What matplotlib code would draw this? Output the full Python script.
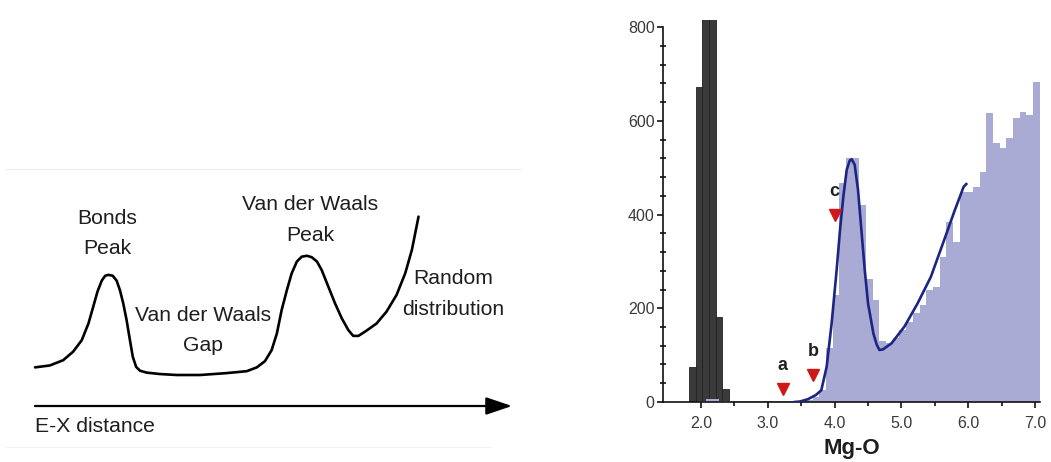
import matplotlib
matplotlib.use("Agg")
import matplotlib.pyplot as plt

plt.rcParams["font.family"] = ["Liberation Sans", "DejaVu Sans"]

# ---- left: schematic (arbitrary units, arrow runs 0 -> 10) ----
schema_x = [0.00, 0.31, 0.59, 0.80, 0.98, 1.12, 1.22, 1.31, 1.40, 1.47, 1.54, 1.63,
            1.71, 1.78, 1.85, 1.92, 1.99, 2.05, 2.12, 2.20, 2.34, 2.62, 2.97, 3.46,
            4.02, 4.44, 4.65, 4.82, 4.96, 5.07, 5.17, 5.28, 5.38, 5.49, 5.59, 5.70,
            5.80, 5.91, 6.01, 6.15, 6.29, 6.43, 6.57, 6.67, 6.78, 6.95, 7.16, 7.37,
            7.58, 7.76, 7.90, 8.04]
schema_y = [0.81, 0.85, 0.96, 1.14, 1.38, 1.73, 2.08, 2.40, 2.63, 2.73, 2.75, 2.73,
            2.63, 2.43, 2.15, 1.80, 1.38, 1.03, 0.82, 0.74, 0.70, 0.67, 0.65, 0.65,
            0.69, 0.73, 0.81, 0.94, 1.17, 1.52, 2.01, 2.43, 2.78, 3.03, 3.13, 3.15,
            3.12, 3.03, 2.85, 2.50, 2.15, 1.84, 1.59, 1.47, 1.47, 1.58, 1.73, 1.98,
            2.33, 2.78, 3.27, 3.97]
schema_labels = ["Bonds\nPeak", "Van der Waals\nGap", "Van der Waals\nPeak",
                 "Random\ndistribution"]
schema_label_x = [1.51, 3.52, 5.77, 8.76]
schema_label_y = [3.62, 1.59, 3.90, 2.35]

# ---- right: Mg-O histogram ----
dark_centers = [1.87, 1.97, 2.07, 2.17, 2.27, 2.37]
dark_counts = [75, 671, 900, 900, 182, 28]

light_centers = [round(2.02 + 0.1 * i, 2) for i in range(51)]
light_counts = [3, 6, 6, 3, 2, 2, 2, 2, 2, 2,
                2, 2, 2, 2, 3, 3, 5, 10, 25, 115,
                228, 467, 520, 520, 420, 262, 218, 130, 126, 137,
                153, 170, 189, 207, 239, 246, 310, 385, 342, 449,
                449, 459, 491, 616, 552, 541, 563, 605, 619, 612,
                683]

fit_x = [3.40, 3.48, 3.60, 3.72, 3.80, 3.88, 3.955, 4.03, 4.08, 4.13, 4.18, 4.225,
         4.255, 4.30, 4.35, 4.40, 4.45, 4.50, 4.58, 4.63, 4.67, 4.72, 4.85, 5.045,
         5.24, 5.44, 5.64, 5.79, 5.93, 5.97]
fit_y = [0, 1, 6, 15, 25, 75, 168, 282, 367, 438, 495, 515,
         518, 506, 452, 367, 282, 210, 146, 122, 111, 112, 125, 161,
         210, 267, 346, 406, 459, 465]

marker_labels = ["a", "b", "c"]
marker_x = [3.22, 3.68, 4.00]
marker_y = [27, 58, 399]

fig = plt.figure(figsize=(10.51, 4.62), dpi=100)

# schematic panel
ax0 = fig.add_axes([0, 0, 0.55, 1])
ax0.set_xlim(-0.734, 11.384)
ax0.set_ylim(-1.174, 8.512)
ax0.axis("off")
ax0.axhline(4.97, xmin=0.01, xmax=0.9, color="#eeeeee", lw=0.8)
ax0.axhline(-0.86, xmin=0.01, xmax=0.85, color="#f2f2f2", lw=0.8)
ax0.plot(schema_x, schema_y, color="black", lw=1.9,
         solid_capstyle="round", solid_joinstyle="round")
ax0.annotate("", xy=(10, 0), xytext=(0, 0),
             arrowprops=dict(arrowstyle="-|>,head_length=0.8,head_width=0.27",
                             mutation_scale=20, color="black", lw=1.6,
                             shrinkA=0, shrinkB=0))
for lab, lx, ly in zip(schema_labels, schema_label_x, schema_label_y):
    ax0.text(lx, ly, lab, ha="center", va="center", fontsize=15.2,
             color="#1e1e1e", linespacing=1.75)
ax0.text(0, -0.44, "E-X distance", ha="left", va="center", fontsize=15.2,
         color="#1e1e1e")

# histogram panel
ax = fig.add_axes([0.6308, 0.1299, 0.3585, 0.8268])
ax.bar(dark_centers, dark_counts, width=0.1, color="#3a3a3a",
       edgecolor="#222222", linewidth=0.6, zorder=1)
ax.bar(light_centers, light_counts, width=0.1, color="#a9abd5",
       linewidth=0, zorder=2)
ax.plot(fit_x, fit_y, color="#1c2682", lw=1.9, zorder=3)
ax.plot(marker_x, marker_y, linestyle="none", marker="v", markersize=9,
        color="#d01818", zorder=4)
for lab, mx, my in zip(marker_labels, marker_x, marker_y):
    ax.annotate(lab, (mx, my), xytext=(0, 11), textcoords="offset points",
                ha="center", va="bottom", fontsize=13, fontweight="bold",
                color="#222222", zorder=5)

ax.set_xlim(1.43, 7.07)
ax.set_ylim(0, 815)
ax.spines["top"].set_visible(False)
ax.spines["right"].set_visible(False)
ax.spines["left"].set_bounds(0, 800)
for s in ("left", "bottom"):
    ax.spines[s].set_linewidth(1.2)
    ax.spines[s].set_color("#111111")
ax.set_xticks([2, 3, 4, 5, 6, 7])
ax.set_xticklabels(["2.0", "3.0", "4.0", "5.0", "6.0", "7.0"])
ax.set_xticks([2.5, 3.5, 4.5, 5.5, 6.5], minor=True)
ax.set_yticks([0, 200, 400, 600, 800])
ax.set_yticks([v for v in range(40, 800, 40) if v % 200], minor=True)
ax.tick_params(axis="both", which="major", direction="out", length=4, width=1.2,
               labelsize=11.5, labelcolor="#3a3a3a", color="#111111")
ax.tick_params(axis="x", which="major", pad=6)
ax.tick_params(axis="y", which="major", pad=2)
ax.tick_params(axis="x", which="minor", direction="out", length=3, width=1.2,
               color="#111111")
ax.tick_params(axis="y", which="minor", direction="inout", length=4, width=1.2,
               color="#111111")
ax.set_xlabel("Mg-O", fontsize=16, fontweight="bold", color="#1e1e1e", labelpad=5)

fig.savefig("out.png", dpi=100)
